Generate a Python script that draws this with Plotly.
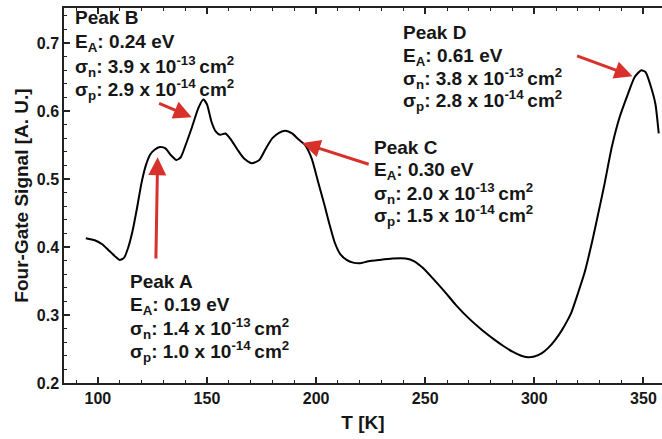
import plotly.graph_objects as go

# Temperature [K] and four-gate signal [A.U.]
T = [94.5, 98.6, 102, 105, 108, 110, 112, 114, 116, 118, 120, 122, 124, 126, 128.5,
     131, 133.5, 136, 138, 140, 143, 146, 148.3, 150, 152, 154, 156, 158.5, 161, 164,
     167, 170.5, 174, 177, 180, 183, 186, 189, 192, 195, 198, 201, 204, 206, 208.5,
     211, 214, 217, 220, 224, 229, 235, 241, 245, 249, 254, 259, 264, 270, 276, 282,
     286, 290, 294, 297, 300, 303.5, 306.5, 309.5, 312.5, 315, 317, 320, 323, 326.5,
     329, 332, 335.5, 339, 343, 346, 349, 351, 353.5, 355.5, 357]
S = [0.413, 0.410, 0.404, 0.395, 0.386, 0.381, 0.384, 0.400, 0.425, 0.458, 0.494, 0.520,
     0.536, 0.543, 0.547, 0.545, 0.535, 0.528, 0.532, 0.548, 0.575, 0.604, 0.617, 0.610,
     0.585, 0.570, 0.565, 0.567, 0.558, 0.543, 0.530, 0.523, 0.528, 0.545, 0.560, 0.568,
     0.571, 0.567, 0.558, 0.550, 0.530, 0.495, 0.460, 0.435, 0.407, 0.390, 0.381, 0.377,
     0.376, 0.379, 0.381, 0.383, 0.383, 0.379, 0.369, 0.352, 0.334, 0.315, 0.295, 0.278,
     0.263, 0.254, 0.246, 0.240, 0.238, 0.239, 0.244, 0.252, 0.263, 0.277, 0.291, 0.304,
     0.332, 0.362, 0.408, 0.445, 0.490, 0.547, 0.590, 0.626, 0.650, 0.660, 0.657, 0.635,
     0.610, 0.567]

x_ticks = [100, 150, 200, 250, 300, 350]
y_ticks = [0.2, 0.3, 0.4, 0.5, 0.6, 0.7]

peak_names = ["Peak A", "Peak B", "Peak C", "Peak D"]
peak_EA = ["0.19", "0.24", "0.30", "0.61"]
peak_sn = ["1.4", "3.9", "2.0", "3.8"]
peak_sp = ["1.0", "2.9", "1.5", "2.8"]
# label block anchor (left T, line y's), arrow tip and tail in data coords
label_x = [113.7, 88.6, 225.7, 238.8]
label_y = [[0.350, 0.313, 0.280, 0.246],
           [0.737, 0.700, 0.665, 0.631],
           [0.547, 0.512, 0.478, 0.446],
           [0.716, 0.679, 0.648, 0.616]]
arrow_tip = [(127.4, 0.532), (143.0, 0.591), (193.7, 0.553), (345.0, 0.651)]
arrow_tail = [(126.6, 0.381), (127.4, 0.612), (224.8, 0.521), (318.9, 0.682)]

FONT = "Liberation Sans, Arial, sans-serif"
TXT = "#161616"
RED = "#d8302a"

fig = go.Figure()
fig.add_trace(go.Scatter(x=T, y=S, mode="lines",
                         line=dict(color="black", width=2, shape="spline", smoothing=0.6),
                         showlegend=False, hoverinfo="skip"))

ann = []
for i in range(4):
    lines = [
        peak_names[i],
        "E<sub>A</sub>: " + peak_EA[i] + " eV",
        "σ<sub>n</sub>: " + peak_sn[i] + " x 10<sup>-13 </sup>cm<sup>2</sup>",
        "σ<sub>p</sub>: " + peak_sp[i] + " x 10<sup>-14 </sup>cm<sup>2</sup>",
    ]
    for j, t in enumerate(lines):
        ann.append(dict(x=label_x[i], y=label_y[i][j], xref="x", yref="y", text=t,
                        showarrow=False, xanchor="left", yanchor="middle",
                        font=dict(family=FONT, size=19, color=TXT, weight="bold")))
    ann.append(dict(x=arrow_tip[i][0], y=arrow_tip[i][1], ax=arrow_tail[i][0], ay=arrow_tail[i][1],
                    xref="x", yref="y", axref="x", ayref="y", text="", showarrow=True,
                    arrowhead=2, arrowsize=1.2, arrowwidth=3, arrowcolor=RED))

fig.update_layout(
    width=662, height=439,
    margin=dict(l=64, r=0, t=8, b=56),
    paper_bgcolor="white", plot_bgcolor="white",
    annotations=ann,
    font=dict(family=FONT, color=TXT),
)
fig.update_xaxes(range=[84.5, 358.5], tickvals=x_ticks, ticks="inside", ticklen=6,
                 tickwidth=1.5, tickcolor="#222", showline=True, linecolor="#222",
                 linewidth=1.5, mirror="allticks", showgrid=False, zeroline=False,
                 minor=dict(dtick=10, ticks="inside", ticklen=3, tickwidth=1, tickcolor="#222"),
                 tickfont=dict(family=FONT, size=16, color=TXT, weight="bold"),
                 title=dict(text="T [K]", standoff=10,
                            font=dict(family=FONT, size=19, color=TXT, weight="bold")))
fig.update_yaxes(range=[0.2, 0.7515], tickvals=y_ticks, tickformat=".1f", ticks="inside",
                 ticklen=6, tickwidth=1.5, tickcolor="#222", showline=True, linecolor="#222",
                 linewidth=1.5, showgrid=False, zeroline=False,
                 minor=dict(dtick=0.02, tick0=0.2, ticks="inside", ticklen=3, tickwidth=1,
                            tickcolor="#222"),
                 tickfont=dict(family=FONT, size=16, color=TXT, weight="bold"),
                 title=dict(text="Four-Gate Signal [A. U.]", standoff=3,
                            font=dict(family=FONT, size=19, color=TXT, weight="bold")))

fig.write_html("out.html")
